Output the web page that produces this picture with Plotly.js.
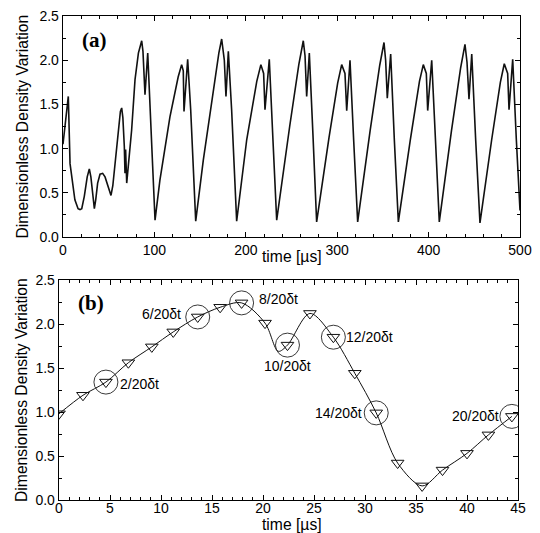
<!DOCTYPE html>
<html><head><meta charset="utf-8">
<script src="https://cdn.plot.ly/plotly-3.0.1.min.js"></script>
<style>html,body{margin:0;padding:0;background:#fff}#chart{width:540px;height:533px}</style>
</head><body><div id="chart"></div>
<script>
// ---------- Panel (a): density variation over 0-500 µs ----------
const timeA = [0,3,5.8,7.7,11.3,13,16.5,18.6,20.5,23.3,26.5,28.8,30.5,32.5,34.3,35.8,37.9,40.5,43.4,46,
  49.5,52.5,54.5,56.9,60.5,62.8,64.2,65.5,67.1,67.8,68.5,69.7,75.1,78.8,82.5,84.6,86.1,87.5,89.7,92.7,
  95.2,98.1,100.7,
  106,117,126,129.8,131.6,132.4,136.4,139.7,142.6,145.2,
  153.5,164.4,170.5,173.6,176.5,178.3,180.9,184.5,187.4,190,
  201,212,216.5,219.5,221,225.7,229.7,233.8,
  248,258,262.9,264.8,266.6,269.5,273.5,277.5,
  291,300.5,304.9,308.5,310.4,314,318,322.4,
  336,346.5,351.2,353,354.8,358.5,362.5,366.9,
  380,390,394.2,397.5,399,403.4,407.5,411.7,
  425,435,439.8,442,444.2,447.2,451.5,456.2,
  469,478.5,482.8,486.5,488,492,496,500];
const densA = [1.05,1.3,1.59,0.83,0.53,0.42,0.32,0.31,0.32,0.46,0.68,0.77,0.68,0.45,0.32,0.42,0.61,0.71,0.72,0.68,
  0.56,0.47,0.58,0.83,1.2,1.42,1.46,1.35,1.02,0.72,0.99,0.61,1.21,1.78,2.08,2.18,2.22,2.1,1.61,2.08,
  1.55,0.80,0.19,
  0.64,1.36,1.81,1.95,1.88,1.42,2.01,1.44,0.72,0.18,
  0.87,1.66,2.08,2.24,2.0,1.59,2.10,1.44,0.72,0.18,
  1.10,1.76,1.95,1.85,1.44,2.01,1.10,0.19,
  1.25,1.95,2.22,2.05,1.59,2.08,1.15,0.17,
  1.12,1.74,1.95,1.85,1.43,2.0,1.10,0.17,
  1.2,1.94,2.20,2.0,1.57,2.07,1.10,0.17,
  1.1,1.76,1.95,1.85,1.43,2.0,1.10,0.17,
  1.2,1.91,2.18,1.98,1.56,2.07,1.10,0.16,
  1.1,1.75,1.96,1.85,1.44,2.01,1.10,0.3];

// ---------- Panel (b): one period sampled at δt/20 ----------
const timeB = [0,2.35,4.6,6.8,9.1,11.2,13.6,15.8,17.9,20.2,22.4,24.6,26.9,29.0,31.1,33.2,35.6,37.6,40.0,42.1,44.4];
const densB = [0.98,1.19,1.34,1.56,1.74,1.91,2.08,2.19,2.24,2.01,1.76,2.12,1.85,1.44,0.99,0.42,0.16,0.34,0.53,0.74,0.95];
const curveTimeB = [0,2.35,4.6,6.8,9.1,11.2,13.6,15.8,17.9,20.2,21.5,22.4,24.6,26.9,29.0,31.1,33.2,35.6,37.6,40.0,42.1,44.4];
const curveDensB = [0.98,1.19,1.34,1.56,1.74,1.91,2.08,2.19,2.24,2.01,1.69,1.76,2.12,1.85,1.44,0.99,0.42,0.16,0.34,0.53,0.74,0.95];
const markedIdx = [2,6,8,10,12,14,20];
const markedLabels = ['2/20δt','6/20δt','8/20δt','10/20δt','12/20δt','14/20δt','20/20δt'];

const xTicksA = [0,100,200,300,400,500];
const xTicksB = [0,5,10,15,20,25,30,35,40,45];
const yTicks = [0,0.5,1.0,1.5,2.0,2.5];
const yTickText = ['0.0','0.5','1.0','1.5','2.0','2.5'];

// label placement (style only)
const labelAnchor = ['left','right','left','center','left','right','right'];
const labelShiftX = [12,-15,15,0,11,-12,-11];
const labelShiftY = [-2,3,4,-21,0,0,0];

const FONT = 'Liberation Sans, Arial, sans-serif';
const tickFont = {family: FONT, size: 14, color: '#000'};

const traces = [
  {x: timeA, y: densA, xaxis: 'x', yaxis: 'y', mode: 'lines',
   line: {color: '#111', width: 1.6}, hoverinfo: 'skip', showlegend: false},
  {x: curveTimeB, y: curveDensB, xaxis: 'x2', yaxis: 'y2', mode: 'lines',
   line: {color: '#111', width: 1, shape: 'spline', smoothing: 0.9}, hoverinfo: 'skip', showlegend: false},
  {x: timeB, y: densB, xaxis: 'x2', yaxis: 'y2', mode: 'markers',
   marker: {symbol: 'triangle-down-open', size: 11, color: '#111', line: {width: 1, color: '#111'}},
   showlegend: false},
  {x: markedIdx.map(i => timeB[i]), y: markedIdx.map(i => densB[i]), xaxis: 'x2', yaxis: 'y2', mode: 'markers',
   marker: {symbol: 'circle-open', size: 24, color: '#222', line: {width: 0.9, color: '#222'}},
   showlegend: false}
];

const annotations = markedIdx.map((i, k) => ({
  x: timeB[i], y: densB[i], xref: 'x2', yref: 'y2', text: markedLabels[k], showarrow: false,
  xanchor: labelAnchor[k], yanchor: 'middle', xshift: labelShiftX[k], yshift: labelShiftY[k],
  font: {family: FONT, size: 14, color: '#000'}
}));
annotations.push(
  {text: '<b>(a)</b>', xref: 'paper', yref: 'paper', x: 94/540, y: 1 - 40/533, showarrow: false,
   xanchor: 'center', yanchor: 'middle', font: {family: 'Liberation Serif, Times New Roman, serif', size: 21, color: '#000'}},
  {text: '<b>(b)</b>', xref: 'paper', yref: 'paper', x: 91/540, y: 1 - 303/533, showarrow: false,
   xanchor: 'center', yanchor: 'middle', font: {family: 'Liberation Serif, Times New Roman, serif', size: 21, color: '#000'}},
  {text: 'Dimensionless Density Variation', xref: 'paper', yref: 'paper', x: 22/540, y: 1 - 126.5/533,
   textangle: -90, showarrow: false, xanchor: 'center', yanchor: 'middle', font: {family: FONT, size: 15.7, color: '#000'}},
  {text: 'Dimensionless Density Variation', xref: 'paper', yref: 'paper', x: 21/540, y: 1 - 390/533,
   textangle: -90, showarrow: false, xanchor: 'center', yanchor: 'middle', font: {family: FONT, size: 15.7, color: '#000'}},
  {text: 'time [µs]', xref: 'paper', yref: 'paper', x: 292/540, y: 1 - 256/533, showarrow: false,
   xanchor: 'center', yanchor: 'middle', font: {family: FONT, size: 15.7, color: '#000'}},
  {text: 'time [µs]', xref: 'paper', yref: 'paper', x: 292/540, y: 1 - 524/533, showarrow: false,
   xanchor: 'center', yanchor: 'middle', font: {family: FONT, size: 15.7, color: '#000'}}
);

const axisBase = {showline: true, linecolor: '#000', linewidth: 1.3, mirror: 'allticks', ticks: 'inside',
  ticklen: 5, tickwidth: 1, tickcolor: '#000', showgrid: false, zeroline: false, tickfont: tickFont, fixedrange: true};

const layout = {
  width: 540, height: 533, margin: {l: 0, r: 0, t: 0, b: 0},
  paper_bgcolor: '#fff', plot_bgcolor: '#fff', showlegend: false,
  xaxis: Object.assign({}, axisBase, {domain: [63/540, 520/540], range: [0, 500], anchor: 'y',
    tickmode: 'array', tickvals: xTicksA, minor: {dtick: 20, ticklen: 3, ticks: 'inside', tickcolor: '#000'}}),
  yaxis: Object.assign({}, axisBase, {domain: [1 - 237/533, 1 - 16/533], range: [0, 2.5], anchor: 'x',
    tickmode: 'array', tickvals: yTicks, ticktext: yTickText, minor: {dtick: 0.25, ticklen: 3, ticks: 'inside', tickcolor: '#000'}}),
  xaxis2: Object.assign({}, axisBase, {domain: [59/540, 518/540], range: [0, 45], anchor: 'y2',
    tickmode: 'array', tickvals: xTicksB, ticklabelstandoff: -5,
    minor: {dtick: 1, ticklen: 3, ticks: 'inside', tickcolor: '#000'}}),
  yaxis2: Object.assign({}, axisBase, {domain: [1 - 500/533, 1 - 280/533], range: [0, 2.5], anchor: 'x2',
    tickmode: 'array', tickvals: yTicks, ticktext: yTickText, minor: {dtick: 0.25, ticklen: 3, ticks: 'inside', tickcolor: '#000'}}),
  annotations: annotations
};

Plotly.newPlot('chart', traces, layout, {displayModeBar: false, staticPlot: true});
</script>
</body></html>
